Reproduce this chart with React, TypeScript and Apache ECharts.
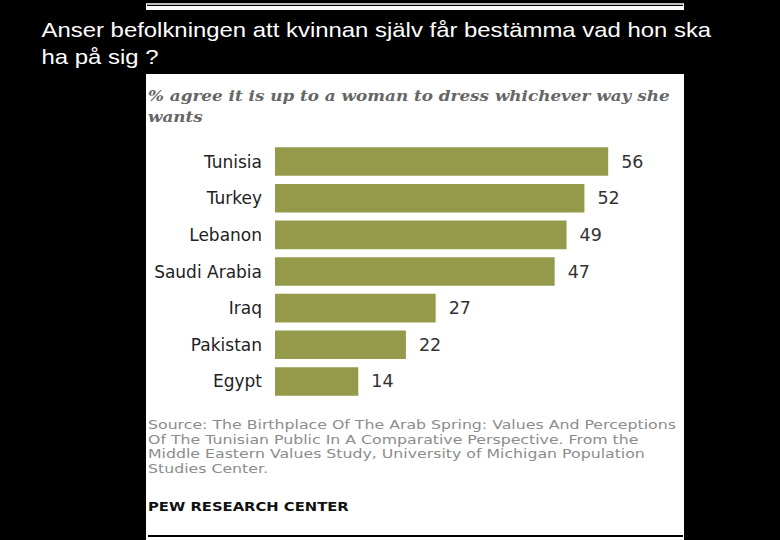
import React, { useEffect, useRef } from "react";
import * as echarts from "echarts";

const categories = ["Tunisia", "Turkey", "Lebanon", "Saudi Arabia", "Iraq", "Pakistan", "Egypt"];
const values = [56, 52, 49, 47, 27, 22, 14];

const slideTitle = ["Anser befolkningen att kvinnan själv får bestämma vad hon ska", "ha på sig ?"];
const chartTitle = ["% agree it is up to a woman to dress whichever way she", "wants"];
const sourceLines = [
  "Source: The Birthplace Of The Arab Spring: Values And Perceptions",
  "Of The Tunisian Public In A Comparative Perspective. From the",
  "Middle Eastern Values Study, University of Michigan Population",
  "Studies Center.",
];
const brand = "PEW RESEARCH CENTER";

function measure(text: string, font: string): number {
  const c = document.createElement("canvas");
  const ctx = c.getContext("2d");
  if (!ctx) return text.length * 8;
  ctx.font = font;
  return ctx.measureText(text).width || 1;
}

export default function App() {
  const ref = useRef<HTMLDivElement>(null);
  useEffect(() => {
    document.body.style.margin = "0";
    if (!ref.current) return;
    const chart = echarts.init(ref.current, undefined, { renderer: "svg" });

    const titleFont = '20px "Liberation Sans"';
    const titleScale = 670 / measure(slideTitle[0], titleFont);
    const ctFont = 'italic bold 15px "DejaVu Serif"';
    const ctScale = 522 / measure(chartTitle[0], ctFont);
    const srcFont = '13px "DejaVu Sans"';
    const srcScale = 528 / measure(sourceLines[0], srcFont);
    const pewFont = 'bold 12.5px "DejaVu Sans"';
    const pewScale = 201 / measure(brand, pewFont);

    const graphics: any[] = [
      { type: "rect", shape: { x: 146, y: 3.3, width: 538, height: 6.7 }, style: { fill: "#fff" }, z: 0 },
      { type: "rect", shape: { x: 147, y: 4.7, width: 536, height: 1.2 }, style: { fill: "#000" }, z: 1 },
      { type: "rect", shape: { x: 146, y: 74, width: 538, height: 470 }, style: { fill: "#fff" }, z: 0 },
      { type: "rect", shape: { x: 148, y: 535, width: 535, height: 2 }, style: { fill: "#000" }, z: 1 },
    ];
    slideTitle.forEach((t, i) => {
      graphics.push({
        type: "text", x: 41.5, y: 30 + i * 27, scaleX: titleScale, z: 2,
        style: { text: t, font: titleFont, fill: "#fff", textVerticalAlign: "middle" },
      });
    });
    chartTitle.forEach((t, i) => {
      graphics.push({
        type: "text", x: 148, y: 96 + i * 21, scaleX: ctScale, z: 2,
        style: { text: t, font: ctFont, fill: "#666", textVerticalAlign: "middle" },
      });
    });
    sourceLines.forEach((t, i) => {
      graphics.push({
        type: "text", x: 148, y: 424.5 + i * 14.6, scaleX: srcScale, z: 2,
        style: { text: t, font: srcFont, fill: "#8c8c8c", textVerticalAlign: "middle" },
      });
    });
    graphics.push({
      type: "text", x: 148, y: 506, scaleX: pewScale, z: 2,
      style: { text: brand, font: pewFont, fill: "#111", textVerticalAlign: "middle" },
    });

    chart.setOption({
      animation: false,
      backgroundColor: "#000",
      graphic: { elements: graphics },
      grid: { left: 275, top: 143.2, width: 357, height: 256.6, containLabel: false },
      xAxis: {
        type: "value", min: 0, max: 60,
        axisLabel: { show: false }, axisLine: { show: false }, axisTick: { show: false }, splitLine: { show: false },
      },
      yAxis: {
        type: "category", data: categories, inverse: true,
        axisLine: { show: false }, axisTick: { show: false },
        axisLabel: { color: "#222", fontSize: 17, fontFamily: "DejaVu Sans", margin: 13 },
      },
      series: [
        {
          type: "bar", data: values, barCategoryGap: "22%", z: 3,
          itemStyle: { color: "#959a4b" },
          label: { show: true, position: "right", distance: 13, color: "#333", fontSize: 17.5, fontFamily: "DejaVu Sans" },
        },
      ],
    });
    return () => chart.dispose();
  }, []);
  return <div ref={ref} style={{ position: "fixed", left: 0, top: 0, width: 780, height: 540 }} />;
}
